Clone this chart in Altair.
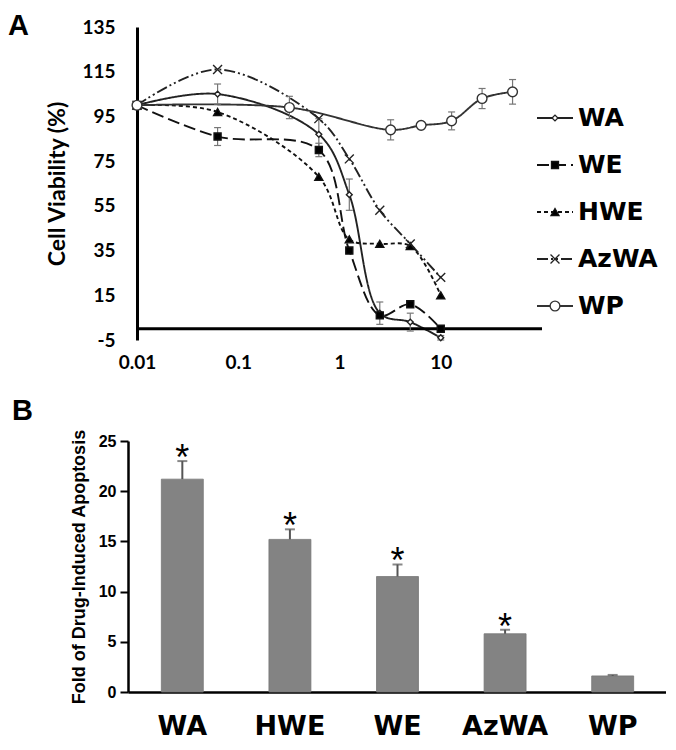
import altair as alt
import pandas as pd

# ---------------- Panel A data ----------------
series = ["WA", "WE", "HWE", "AzWA", "WP"]
conc_main = [0.01, 0.0625, 0.625, 1.25, 2.5, 5, 10]
conc_wp = [0.01, 0.32, 3.2, 6.4, 12.8, 25.6, 51.2]
viab_wa = [100, 105, 87, 60, 7, 3, -4]
viab_we = [100, 86, 80, 35, 6, 11, 0]
viab_hwe = [100, 97, 68, 40, 38, 37, 15]
viab_azwa = [100, 116, 94, 76, 53, 38, 23]
viab_wp = [100, 99, 89, 91, 93, 103, 106]
err_wa = [0, 4.5, 7, 7, 5, 4, 1]
err_we = [0, 4, 3, 0, 0, 0, 0]
err_hwe = [0, 0, 0, 0, 0, 0, 0]
err_azwa = [0, 0, 0, 0, 0, 0, 0]
err_wp = [0, 5, 4.5, 1, 4, 4.5, 5.5]
x_tick_values = [0.01, 0.1, 1, 10]
y_tick_values = [-5, 15, 35, 55, 75, 95, 115, 135]

# ---------------- Panel B data ----------------
groups = ["WA", "HWE", "WE", "AzWA", "WP"]
fold = [21.2, 15.2, 11.5, 5.8, 1.6]
fold_err = [1.8, 1.0, 1.2, 0.4, 0.1]
signif = ["*", "*", "*", "*", ""]
fold_ticks = [0, 5, 10, 15, 20, 25]

# ---------------- build tables ----------------
rows = []
for s, xs_, vs, es in [
    ("WA", conc_main, viab_wa, err_wa),
    ("WE", conc_main, viab_we, err_we),
    ("HWE", conc_main, viab_hwe, err_hwe),
    ("AzWA", conc_main, viab_azwa, err_azwa),
    ("WP", conc_wp, viab_wp, err_wp),
]:
    for c, v, e in zip(xs_, vs, es):
        rows.append({"series": s, "conc": c, "v": v, "lo": v - e, "hi": v + e, "err": e})
dfA = pd.DataFrame(rows)
errA = dfA[dfA["err"] > 0]
capsA = pd.concat([errA.assign(cap=errA["lo"]), errA.assign(cap=errA["hi"])])
legdf = pd.DataFrame({"series": series})

dfB = pd.DataFrame({"grp": groups, "fold": fold, "err": fold_err, "sig": signif})
dfB["top"] = dfB["fold"] + dfB["err"]

# ---------------- scales / styles ----------------
xsc = alt.Scale(type="log", domain=[0.01, 100], nice=False)
ysc = alt.Scale(domain=[-5, 135], nice=False, zero=False)
dash_sc = alt.Scale(domain=series, range=[[1, 0], [12, 5], [4, 3], [11, 3, 2, 3, 2, 3], [1, 0]])
lcol_sc = alt.Scale(domain=series, range=["#222222", "#111111", "#111111", "#222222", "#333333"])
shape_sc = alt.Scale(domain=series, range=["diamond", "square", "triangle-up",
                                           "M-1,-1L1,1M-1,1L1,-1", "circle"])
size_sc = alt.Scale(domain=series, range=[34, 95, 80, 100, 64])
fill_sc = alt.Scale(domain=series, range=["white", "black", "black", "white", "white"])
pstroke_sc = alt.Scale(domain=series, range=["#666666", "black", "black", "black", "#666666"])

LATO = "Lato"
WIDE = "DejaVu Sans"
ARIAL = "Liberation Sans"

x_axis_A = alt.Axis(values=x_tick_values, format=".2~f", domain=False, ticks=False, grid=False,
                    labelFont=LATO, labelFontWeight="bold", labelFontSize=19, labelColor="black",
                    labelPadding=13, labelFlush=False, title=None)
y_axis_A = alt.Axis(values=y_tick_values, labelExpr="datum.value + ''", domain=True,
                    domainWidth=3, domainColor="black",
                    ticks=False, grid=False, labelFont=LATO, labelFontWeight="bold",
                    labelFontSize=19, labelColor="black", labelPadding=22,
                    title="Cell Viability (%)", titleFont=LATO, titleFontWeight="bold",
                    titleFontSize=23, titleColor="black", titlePadding=12)

base = alt.Chart(dfA)
XA = alt.X("conc:Q", scale=xsc, axis=x_axis_A)

lines = base.mark_line(strokeWidth=1.9, interpolate="catmull-rom").encode(
    x=XA,
    y=alt.Y("v:Q", scale=ysc, axis=y_axis_A),
    strokeDash=alt.StrokeDash("series:N", scale=dash_sc, legend=None),
    stroke=alt.Stroke("series:N", scale=lcol_sc, legend=None),
)

zero_line = alt.Chart(pd.DataFrame({"d": [0]})).mark_rule(strokeWidth=3, color="black").encode(
    x=alt.datum(0.01), x2=alt.datum(100), y=alt.datum(0)
)

err_rule = alt.Chart(errA).mark_rule(color="#777777", strokeWidth=1.2).encode(
    x=XA,
    y=alt.Y("lo:Q", scale=ysc, axis=y_axis_A),
    y2="hi:Q",
)
err_cap = alt.Chart(capsA).mark_point(shape="stroke", size=49, strokeWidth=1.2,
                                      color="#777777", opacity=1).encode(
    x=XA,
    y=alt.Y("cap:Q", scale=ysc, axis=y_axis_A),
)

points = base.mark_point(opacity=1, strokeWidth=1.4).encode(
    x=XA,
    y=alt.Y("v:Q", scale=ysc, axis=y_axis_A),
    shape=alt.Shape("series:N", scale=shape_sc, legend=None),
    size=alt.Size("series:N", scale=size_sc, legend=None),
    fill=alt.Fill("series:N", scale=fill_sc, legend=None),
    stroke=alt.Stroke("series:N", scale=pstroke_sc, legend=None),
)

main = alt.layer(lines, zero_line, err_rule, err_cap, points)

leg_y = alt.Y("series:N", sort=series,
              scale=alt.Scale(type="point", domain=series, range=[91, 279], padding=0),
              axis=None)
leg_base = alt.Chart(legdf)
leg_line = leg_base.mark_rule(strokeWidth=1.8).encode(
    x=alt.value(400), x2=alt.value(436), y=leg_y,
    strokeDash=alt.StrokeDash("series:N", scale=dash_sc, legend=None),
    stroke=alt.Stroke("series:N", scale=lcol_sc, legend=None),
)
leg_pts = leg_base.mark_point(opacity=1, strokeWidth=1.3).encode(
    x=alt.value(418), y=leg_y,
    shape=alt.Shape("series:N", scale=shape_sc, legend=None),
    size=alt.Size("series:N", scale=alt.Scale(domain=series, range=[30, 60, 60, 60, 50]),
                  legend=None),
    fill=alt.Fill("series:N", scale=fill_sc, legend=None),
    stroke=alt.Stroke("series:N", scale=pstroke_sc, legend=None),
)
leg_txt = leg_base.mark_text(align="left", baseline="middle", font=WIDE, fontWeight="bold",
                             fontSize=25, color="black").encode(
    x=alt.value(441), y=leg_y, text="series:N"
)
legend = alt.layer(leg_line, leg_pts, leg_txt)

label_A = alt.Chart(pd.DataFrame({"t": ["A"]})).mark_text(
    align="left", baseline="alphabetic", font=ARIAL, fontWeight="bold",
    fontSize=29, color="black"
).encode(x=alt.value(-129), y=alt.value(8), text="t:N")

panelA = alt.layer(main, legend, label_A).resolve_scale(y="independent").properties(
    width=405, height=313
)

# ---------------- Panel B ----------------
# plot origin shares panel A's x; the band range starts 9px further left (at the y axis)
bscale = alt.Scale(domain=groups, range=[-9, 530], paddingInner=0.61, paddingOuter=0.31)
ysB = alt.Scale(domain=[0, 25], nice=False)
x_axis_B = alt.Axis(title=None, labelAngle=0, ticks=False, domainWidth=2.5, domainColor="black",
                    labelFont=WIDE, labelFontWeight="bold", labelFontSize=27, labelColor="black",
                    labelPadding=21, grid=False)
y_axis_B = alt.Axis(values=fold_ticks, title="Fold of Drug-Induced Apoptosis", grid=False,
                    offset=9, domainWidth=2.5, domainColor="black", tickSize=8, tickWidth=2,
                    tickColor="black", labelFont=ARIAL, labelFontWeight="bold",
                    labelFontSize=16, labelColor="black", labelPadding=4,
                    titleFont=ARIAL, titleFontWeight="bold", titleFontSize=18,
                    titleColor="black", titlePadding=10)

baseB = alt.Chart(dfB)
xB = alt.X("grp:N", sort=groups, scale=bscale, axis=x_axis_B)
bars = baseB.mark_bar(color="#838383", stroke="#777777", strokeWidth=0.8).encode(
    x=xB, y=alt.Y("fold:Q", scale=ysB, axis=y_axis_B)
)
b_err = baseB.mark_rule(color="#555555", strokeWidth=2).encode(
    x=xB, y=alt.Y("fold:Q", scale=ysB, axis=y_axis_B), y2="top:Q"
)
b_cap = baseB.mark_tick(color="#555555", thickness=2, size=10).encode(
    x=xB, y=alt.Y("top:Q", scale=ysB, axis=y_axis_B)
)
b_star = baseB.mark_text(font=ARIAL, fontSize=36, baseline="alphabetic", dy=9,
                         color="black").encode(
    x=xB, y=alt.Y("top:Q", scale=ysB, axis=y_axis_B), text="sig:N"
)
label_B = alt.Chart(pd.DataFrame({"t": ["B"]})).mark_text(
    align="left", baseline="alphabetic", font=ARIAL, fontWeight="bold",
    fontSize=29, color="black"
).encode(x=alt.value(-125), y=alt.value(-21), text="t:N")

panelB = alt.layer(bars, b_err, b_cap, b_star, label_B).properties(width=530, height=251)

# fixed canvas: plot A origin at (129, 19) inside a 658 x 733 drawing area
chart = alt.vconcat(panelA, panelB, spacing=101, bounds="flush").properties(
    autosize=alt.AutoSizeParams(type="none"),
    padding={"left": 129, "top": 19, "right": 529, "bottom": 714},
    background="white",
).configure_view(stroke=None)

chart.save("out.html", embed_options={"renderer": "svg", "actions": False})
